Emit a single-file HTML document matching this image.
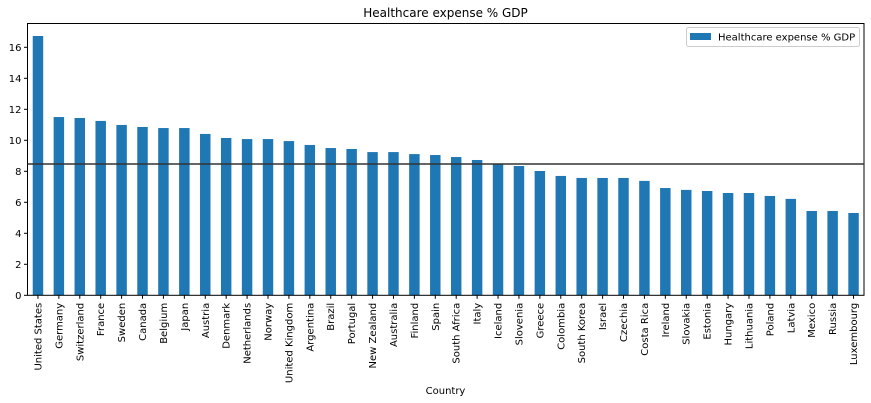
<!DOCTYPE html>
<html><head><meta charset="utf-8">
<style>html,body{margin:0;padding:0;background:#fff;}svg{display:block;font-family:"DejaVu Sans","Liberation Sans",sans-serif;}</style>
</head><body>
<svg id="chart" width="871" height="403" xmlns="http://www.w3.org/2000/svg">
<text x="445.5" y="17" text-anchor="middle" font-size="12">Healthcare expense % GDP</text>
<g id="bars"></g>
<g id="yaxis"></g>
<g id="xaxis"></g>
<text x="445.5" y="394" text-anchor="middle" font-size="10">Country</text>
<rect x="27.5" y="23.5" width="836.5" height="271.8" fill="none" stroke="#000" stroke-width="1"/>
<g>
<rect x="686.5" y="27.5" width="173" height="19" rx="2" fill="#fff" stroke="#ccc"/>
<rect x="690" y="33" width="21" height="7" fill="#1f77b4"/>
<text x="718" y="40.5" font-size="10">Healthcare expense % GDP</text>
</g>
</svg>
<script>
const categories = ["United States","Germany","Switzerland","France","Sweden","Canada","Belgium","Japan","Austria","Denmark","Netherlands","Norway","United Kingdom","Argentina","Brazil","Portugal","New Zealand","Australia","Finland","Spain","South Africa","Italy","Iceland","Slovenia","Greece","Colombia","South Korea","Israel","Czechia","Costa Rica","Ireland","Slovakia","Estonia","Hungary","Lithuania","Poland","Latvia","Mexico","Russia","Luxembourg"];
const values = [16.73,11.5,11.44,11.25,10.99,10.86,10.79,10.79,10.41,10.15,10.08,10.08,9.95,9.7,9.5,9.44,9.24,9.24,9.11,9.05,8.92,8.73,8.47,8.34,8.02,7.7,7.57,7.57,7.57,7.38,6.92,6.8,6.73,6.6,6.6,6.41,6.22,5.44,5.44,5.31];
const yTicks = [0,2,4,6,8,10,12,14,16];
const refLine = 8.47;

const NS="http://www.w3.org/2000/svg";
const left=27.5,right=864,zeroY=295.3,pxPerUnit=15.5;
const slot=(right-left)/categories.length;
function xc(i){return left+slot*(i+0.5);}
function y(v){return zeroY-v*pxPerUnit;}
function mk(tag,attrs,parent){const e=document.createElementNS(NS,tag);for(const k in attrs)e.setAttribute(k,attrs[k]);parent.appendChild(e);return e;}
const bars=document.getElementById('bars'),ya=document.getElementById('yaxis'),xa=document.getElementById('xaxis');
const bw=slot*0.5;
values.forEach((v,i)=>{
  const r=mk('rect',{x:xc(i)-bw/2,y:y(v),width:bw,height:zeroY-y(v),fill:'#1f77b4'},bars);
  
  
});
yTicks.forEach(t=>{
  const l=mk('line',{x1:left-3.5,x2:left,y1:y(t),y2:y(t),stroke:'#000'},ya);
  
  
  const tx=mk('text',{x:left-6,y:y(t)+3.5,'text-anchor':'end','font-size':10},ya);
  tx.textContent=t;
  
  
});
categories.forEach((c,i)=>{
  const l=mk('line',{x1:xc(i),x2:xc(i),y1:zeroY,y2:zeroY+3.5,stroke:'#000'},xa);
  
  
  const tx=mk('text',{x:0,y:0,'text-anchor':'end','font-size':10,transform:'translate('+(xc(i)+3.5)+','+(zeroY+7.5)+') rotate(-90)'},xa);
  tx.textContent=c;
  
  
});
const hl=mk('line',{x1:left,x2:right,y1:y(refLine),y2:y(refLine),stroke:'#333','stroke-width':1.5},document.getElementById('chart'));


</script>
</body></html>
